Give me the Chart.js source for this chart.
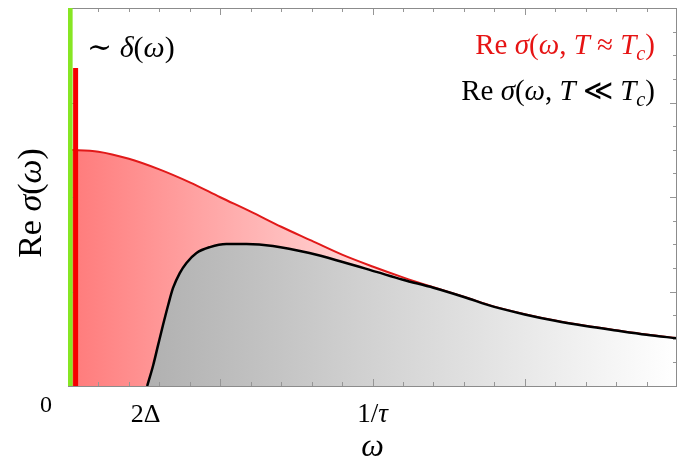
<!DOCTYPE html>
<html>
<head>
<meta charset="utf-8">
<script src="https://cdn.jsdelivr.net/npm/chart.js@4.4.1/dist/chart.umd.min.js"></script>
<style>
  html, body { margin: 0; padding: 0; background: #fff; }
  #wrap { width: 677px; height: 460px; }
</style>
</head>
<body>
<div id="wrap"><canvas id="SigmaChart" width="677" height="460"></canvas></div>
<script>
// normal state, T close to Tc (Drude-like)
const redOmega = [0, 1, 2, 3, 4, 5, 6, 7, 8, 9, 10, 11, 12, 13, 14, 15, 16, 17, 18, 19, 20];
const redSigma = [10.0, 9.92, 9.62, 9.17, 8.62, 7.99, 7.38, 6.74, 6.15, 5.56, 5.06, 4.6, 4.18, 3.78, 3.36, 3.04, 2.77, 2.55, 2.36, 2.18, 2.03];

// superconducting state, T well below Tc (onset at 2 Delta)
const blackOmega = [2.6, 2.8, 2.96, 3.12, 3.29, 3.45, 3.67, 3.89, 4.22, 4.66, 5.2, 5.86, 6.73, 7.93, 9.02, 10.13, 11, 12, 13, 14, 15, 16, 17, 18, 19, 20];
const blackSigma = [0, 0.89, 1.74, 2.58, 3.43, 4.15, 4.78, 5.21, 5.63, 5.88, 6.01, 6.01, 5.93, 5.63, 5.25, 4.83, 4.5, 4.16, 3.77, 3.35, 3.03, 2.76, 2.54, 2.35, 2.17, 2.02];

// delta peaks at omega = 0
const greenSpike = { omega: 0.07, height: 16 };
const redSpike = { omega: 0.25, height: 13.46 };

const xTickValues = [0, 2.55, 10];
const xTickLabels = ["0", "2Δ", "1/τ"];

const X_MAX = 20;
const Y_MAX = 16;

const SERIF = '"Liberation Serif", "DejaVu Serif", serif';

function toPoints(xs, ys) {
  return xs.map((x, i) => ({ x, y: ys[i] }));
}

function hGradient(chart, stops) {
  const { ctx, chartArea } = chart;
  if (!chartArea) return null;
  const g = ctx.createLinearGradient(chartArea.left, 0, chartArea.right, 0);
  stops.forEach(([pos, color]) => g.addColorStop(pos, color));
  return g;
}

// draws a run of text pieces: [text, italic, sub]
function drawRuns(ctx, runs, x, y, size, color, align) {
  const fontFor = (r) => `${r[1] ? "italic " : ""}${r[2] ? size * 0.7 : size}px ${SERIF}`;
  let total = 0;
  runs.forEach((r) => {
    ctx.font = fontFor(r);
    total += ctx.measureText(r[0]).width;
  });
  let cx = align === "right" ? x - total : align === "center" ? x - total / 2 : x;
  ctx.fillStyle = color;
  ctx.textBaseline = "alphabetic";
  ctx.textAlign = "left";
  runs.forEach((r) => {
    ctx.font = fontFor(r);
    ctx.fillText(r[0], cx, r[2] ? y + size * 0.22 : y);
    cx += ctx.measureText(r[0]).width;
  });
}

function drawFrame(chart) {
  const { ctx, chartArea: a, scales } = chart;
  const xs = scales.x;
  const ys = scales.y;
  ctx.save();
  ctx.strokeStyle = "rgb(150,150,150)";
  ctx.lineWidth = 1;

  for (let v = 1; v < X_MAX; v++) {
    const px = Math.round(xs.getPixelForValue(v)) + 0.5;
    const len = v % 5 === 0 ? 7 : 4;
    ctx.beginPath();
    ctx.moveTo(px, a.bottom);
    ctx.lineTo(px, a.bottom - len);
    ctx.moveTo(px, a.top);
    ctx.lineTo(px, a.top + len);
    ctx.stroke();
  }
  for (let v = 1; v < Y_MAX; v++) {
    const py = Math.round(ys.getPixelForValue(v)) + 0.5;
    const len = v % 4 === 0 ? 7 : 4;
    ctx.beginPath();
    ctx.moveTo(a.left, py);
    ctx.lineTo(a.left + len, py);
    ctx.moveTo(a.right, py);
    ctx.lineTo(a.right - len, py);
    ctx.stroke();
  }

  ctx.strokeStyle = "rgb(140,140,140)";
  ctx.strokeRect(a.left + 0.5, a.top + 0.5, a.right - a.left - 1, a.bottom - a.top);
  ctx.restore();
}

const framePlugin = {
  id: "frame",
  // frame goes over the fills but under the two delta spikes
  beforeDatasetDraw(chart, args) {
    if (args.index === 2) drawFrame(chart);
  },
  afterDraw(chart) {
    const { ctx, chartArea: a, scales } = chart;
    const xs = scales.x;
    ctx.save();

    xTickValues.forEach((v, i) => {
      const px = xs.getPixelForValue(v);
      if (i === 0) {
        drawRuns(ctx, [[xTickLabels[i], false]], px - 22, a.bottom + 26, 24, "#000", "center");
      } else if (i === 1) {
        drawRuns(ctx, [[xTickLabels[i], false]], px, a.bottom + 36, 26, "#000", "center");
      } else {
        drawRuns(ctx, [["1/", false], ["τ", true]], px, a.bottom + 36, 27, "#000", "center");
      }
    });

    drawRuns(ctx, [["ω", true]], xs.getPixelForValue(10), a.bottom + 70, 32, "#000", "center");

    ctx.save();
    ctx.translate(41, (a.top + a.bottom) / 2 + 6);
    ctx.rotate(-Math.PI / 2);
    drawRuns(ctx, [["Re ", false], ["σ", true], ["(", false], ["ω", true], [")", false]], 0, 0, 34, "#000", "center");
    ctx.restore();

    drawRuns(ctx, [["∼ ", false], ["δ", true], ["(", false], ["ω", true], [")", false]], 87, 57, 30, "#000", "left");

    drawRuns(ctx, [["Re ", false], ["σ", true], ["(", false], ["ω", true], [", ", false], ["T", true], [" ≈ ", false], ["T", true], ["c", true, true], [")", false]], 655, 54, 29, "rgb(230,20,20)", "right");
    drawRuns(ctx, [["Re ", false], ["σ", true], ["(", false], ["ω", true], [", ", false], ["T", true], [" ≪ ", false], ["T", true], ["c", true, true], [")", false]], 655, 100, 29, "#000", "right");

    ctx.restore();
  },
};

document.addEventListener("DOMContentLoaded", () => {
  const canvas = document.querySelector("#SigmaChart");

  new Chart(canvas, {
    type: "line",
    data: {
      datasets: [
        {
          label: "T ≈ Tc",
          data: toPoints(redOmega, redSigma),
          borderColor: "rgb(225,25,25)",
          borderWidth: 2,
          cubicInterpolationMode: "monotone",
          fill: "origin",
          backgroundColor(context) {
            return hGradient(context.chart, [
              [0, "rgb(255,122,122)"],
              [0.7, "rgb(255,255,255)"],
              [1, "rgb(255,255,255)"],
            ]);
          },
          pointRadius: 0,
          order: 4,
        },
        {
          label: "T ≪ Tc",
          data: toPoints(blackOmega, blackSigma),
          borderColor: "#000",
          borderWidth: 2.5,
          cubicInterpolationMode: "monotone",
          fill: "origin",
          backgroundColor(context) {
            return hGradient(context.chart, [
              [0, "rgb(165,165,165)"],
              [1, "rgb(255,255,255)"],
            ]);
          },
          pointRadius: 0,
          order: 3,
        },
        {
          label: "delta green",
          data: [{ x: greenSpike.omega, y: 0 }, { x: greenSpike.omega, y: greenSpike.height }],
          borderColor: "rgb(135,230,35)",
          borderWidth: 5,
          borderCapStyle: "butt",
          fill: false,
          pointRadius: 0,
          order: 2,
        },
        {
          label: "delta red",
          data: [{ x: redSpike.omega, y: 0 }, { x: redSpike.omega, y: redSpike.height }],
          borderColor: "rgb(245,0,0)",
          borderWidth: 5,
          borderCapStyle: "butt",
          fill: false,
          pointRadius: 0,
          order: 1,
        },
      ],
    },
    options: {
      responsive: false,
      animation: false,
      layout: {
        padding: { left: 68, top: 8, right: 0, bottom: 74 },
      },
      plugins: {
        legend: { display: false },
        tooltip: { enabled: false },
      },
      scales: {
        x: { type: "linear", min: 0, max: X_MAX, display: false },
        y: { type: "linear", min: 0, max: Y_MAX, display: false },
      },
    },
    plugins: [framePlugin],
  });
});
</script>
</body>
</html>
